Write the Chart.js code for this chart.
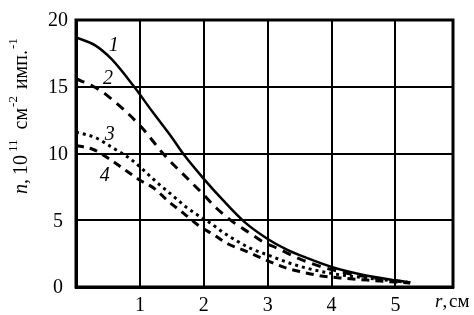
<!DOCTYPE html>
<html>
<head>
<meta charset="utf-8">
<script src="https://cdn.jsdelivr.net/npm/chart.js@4"></script>
<style>
  html, body { margin: 0; padding: 0; background: #fff; }
  #wrap { width: 474px; height: 315px; }
</style>
</head>
<body>
<div id="wrap"><canvas id="chart" width="474" height="315"></canvas></div>
<script>
// values (r in cm, n in 10^11 cm^-2 imp^-1)
const curveNames = ['1', '2', '3', '4'];

const r1 = [0, 0.3, 0.55, 0.91, 1.2, 1.5, 1.69, 2.0, 2.3, 2.63, 3.0, 3.3, 3.6, 4.0, 4.5, 5.0, 5.23];
const n1 = [18.7, 18.1, 17.1, 15.0, 13.1, 11.2, 9.9, 8.1, 6.5, 4.9, 3.6, 2.8, 2.2, 1.5, 0.9, 0.5, 0.35];

const r2 = [0, 0.28, 0.5, 1.0, 1.38, 1.75, 2.0, 2.2, 2.45, 2.7, 2.92, 3.15, 3.5, 4.0, 4.5, 5.0, 5.23];
const n2 = [15.6, 15.0, 14.3, 12.1, 9.9, 8.1, 6.9, 5.9, 4.9, 4.1, 3.4, 2.9, 2.1, 1.3, 0.8, 0.45, 0.32];

const r3 = [0, 0.3, 0.55, 0.85, 1.0, 1.25, 1.5, 1.72, 1.9, 2.1, 2.3, 2.5, 2.73, 3.0, 3.4, 3.9, 4.5, 5.0, 5.23];
const n3 = [11.6, 11.2, 10.5, 9.6, 9.0, 7.9, 6.9, 6.0, 5.4, 4.8, 4.1, 3.5, 2.9, 2.4, 1.7, 1.1, 0.7, 0.45, 0.33];

const r4 = [0, 0.27, 0.52, 0.73, 1.0, 1.22, 1.45, 1.69, 1.92, 2.16, 2.39, 2.6, 3.08, 3.3, 3.56, 3.8, 4.2, 4.6, 5.23];
const n4 = [10.6, 10.3, 9.6, 8.9, 8.0, 7.4, 6.4, 5.5, 4.6, 3.9, 3.2, 2.8, 1.8, 1.4, 1.1, 0.86, 0.65, 0.5, 0.3];

const xTicks = [1, 2, 3, 4, 5];
const yTicks = [0, 5, 10, 15, 20];

// where the curve numbers sit, in data units
const labelSpots = [[0.59, 18.1], [0.5, 15.6], [0.53, 11.4], [0.45, 8.35]];

const SERIF = '"Liberation Serif", "DejaVu Serif", serif';

function pts(xs, ys) {
    return xs.map((x, i) => ({ x: x, y: ys[i] }));
}

function makeSet(xs, ys, dash, width) {
    return {
        data: pts(xs, ys),
        showLine: true,
        borderColor: '#000',
        borderWidth: width,
        borderDash: dash,
        pointRadius: 0,
        cubicInterpolationMode: 'monotone',
        fill: false
    };
}

// frame, curve numbers, axis titles
const decorations = {
    id: 'decorations',
    afterDatasetsDraw(chart) {
        const ctx = chart.ctx;
        const a = chart.chartArea;
        const xs = chart.scales.x;
        const ys = chart.scales.y;
        ctx.save();

        ctx.strokeStyle = '#000';
        ctx.lineWidth = 3;
        ctx.strokeRect(a.left, a.top, a.right - a.left, a.bottom - a.top);

        ctx.fillStyle = '#000';
        ctx.textAlign = 'center';
        ctx.textBaseline = 'middle';
        ctx.font = 'italic 20px ' + SERIF;
        curveNames.forEach((name, i) => {
            ctx.fillText(name, xs.getPixelForValue(labelSpots[i][0]), ys.getPixelForValue(labelSpots[i][1]));
        });

        // x title: "r, см"
        ctx.textAlign = 'left';
        ctx.font = 'italic 19px ' + SERIF;
        ctx.fillText('r', 435, 302);
        let w = ctx.measureText('r').width;
        ctx.font = '19px ' + SERIF;
        ctx.fillText(',', 435 + w, 302);
        ctx.fillText('см', 449, 302);

        // y title, rotated, with superscripts
        ctx.translate(27, 194);
        ctx.rotate(-Math.PI / 2);
        ctx.textBaseline = 'alphabetic';
        const parts = [
            ['n,', 'italic 20px ', 0, 4],
            ['10', '20px ', 0, 3],
            ['11', '13px ', -10, 10],
            ['см', '20px ', 0, 1],
            ['-2', '13px ', -10, 7],
            ['имп.', '20px ', 0, 1],
            ['-1', '13px ', -10, 0]
        ];
        let pos = 0;
        parts.forEach(p => {
            ctx.font = p[1] + SERIF;
            ctx.fillText(p[0], pos, p[2]);
            pos += ctx.measureText(p[0]).width + p[3];
        });
        ctx.restore();
    }
};

new Chart(document.getElementById('chart'), {
    type: 'scatter',
    data: {
        datasets: [
            makeSet(r1, n1, [], 2.5),
            makeSet(r2, n2, [9, 7], 3),
            makeSet(r3, n3, [3, 4], 3),
            makeSet(r4, n4, [8, 6], 3)
        ]
    },
    options: {
        responsive: false,
        animation: false,
        layout: { padding: { left: 0, right: 21, top: 7, bottom: 0 } },
        plugins: { legend: { display: false }, tooltip: { enabled: false } },
        scales: {
            x: {
                type: 'linear',
                min: 0,
                max: 5.9,
                afterBuildTicks: s => { s.ticks = xTicks.map(v => ({ value: v })); },
                afterFit: s => { s.height = 28; },
                grid: { color: '#000', lineWidth: 2, drawTicks: false },
                border: { color: '#000', width: 3 },
                ticks: {
                    color: '#000',
                    padding: 7,
                    font: { family: SERIF, size: 20 }
                }
            },
            y: {
                type: 'linear',
                min: 0,
                max: 20,
                afterBuildTicks: s => { s.ticks = yTicks.map(v => ({ value: v })); },
                afterFit: s => { s.width = 76; },
                grid: { color: '#000', lineWidth: 2, drawTicks: false },
                border: { color: '#000', width: 3 },
                ticks: {
                    color: '#000',
                    padding: 8,
                    crossAlign: 'center',
                    labelOffset: 1,
                    font: { family: SERIF, size: 20 }
                }
            }
        }
    },
    plugins: [decorations]
});
</script>
</body>
</html>
